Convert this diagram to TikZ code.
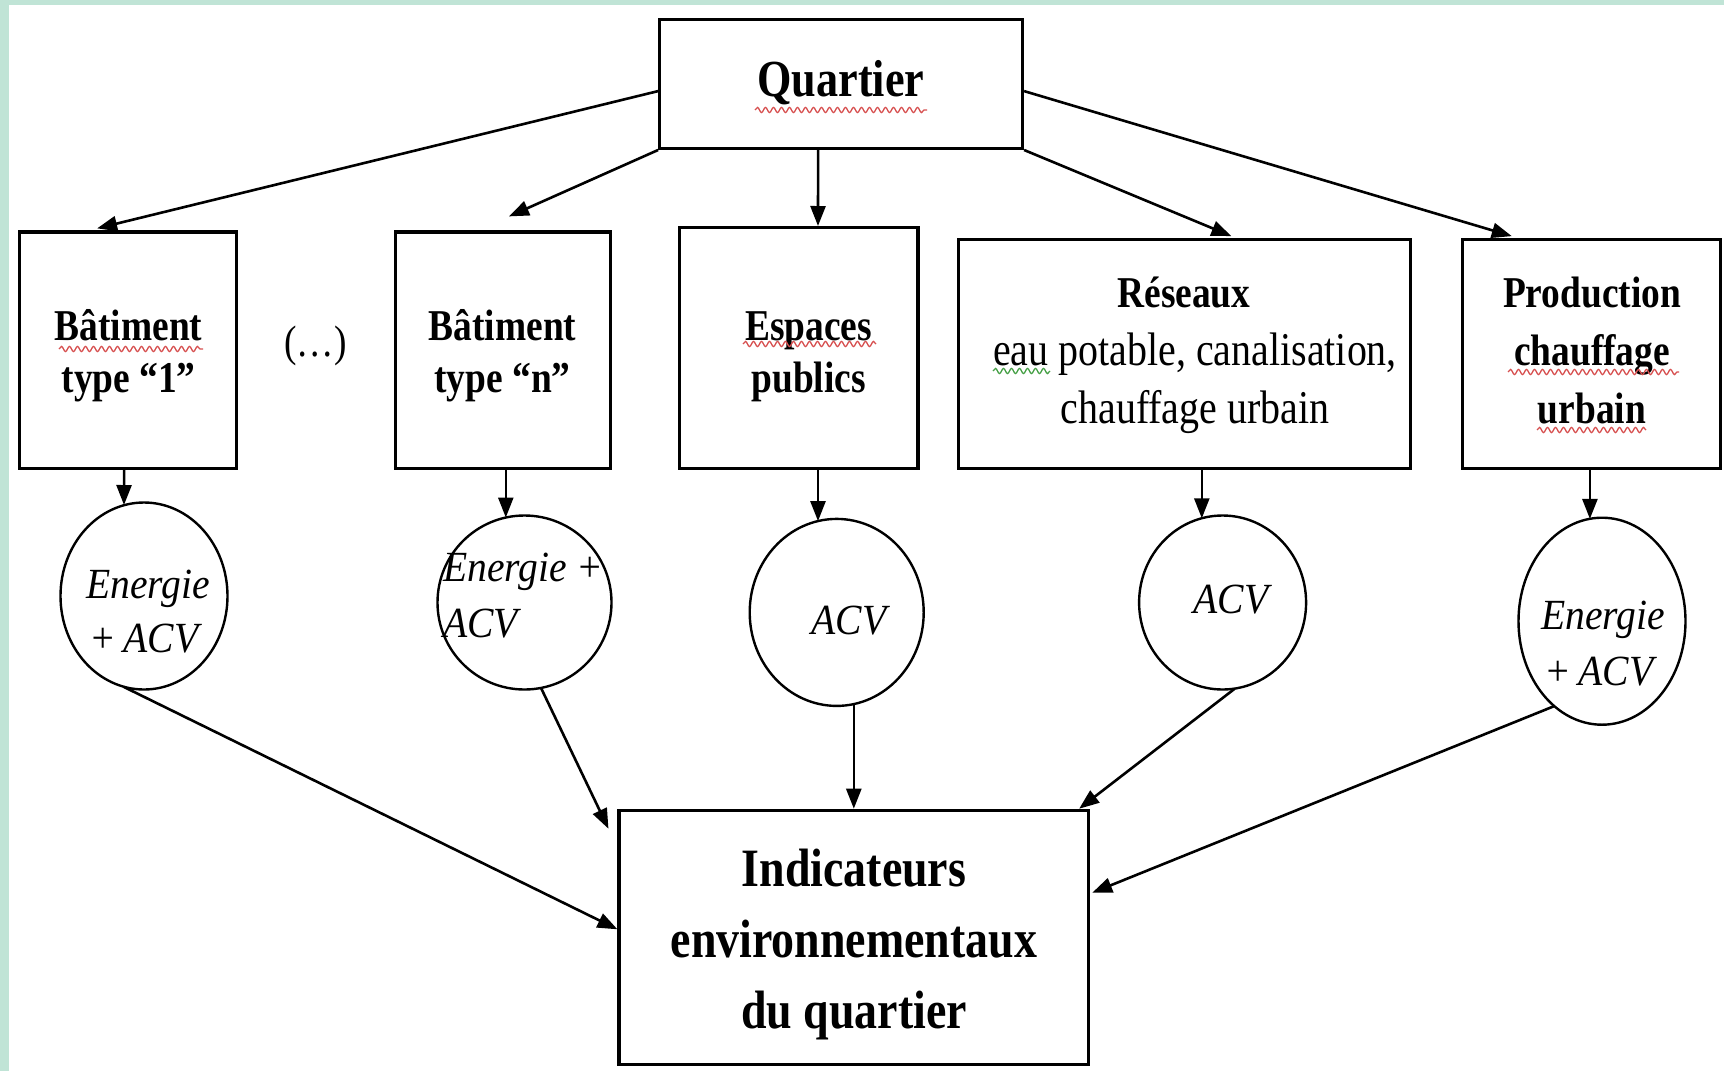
\documentclass[tikz,border=0pt]{standalone}
\usepackage{fontspec}
\setmainfont{Liberation Serif}[FakeStretch=0.85]
\newfontfamily\circfont{Liberation Serif}[FakeStretch=0.92]
\usetikzlibrary{arrows.meta,shapes.geometric,calc,decorations.pathmorphing}
\definecolor{mint}{RGB}{192,228,214}
\definecolor{squigred}{RGB}{215,80,80}
\definecolor{squiggreen}{RGB}{70,160,70}
\begin{document}
\begin{tikzpicture}[x=1pt,y=-1pt,
  boxnode/.style={draw=black, line width=3.2pt, rectangle, inner sep=0pt},
  txt/.style={inner sep=0pt, align=center, font=\fontsize{44}{52}\selectfont\bfseries},
  circnode/.style={draw=black, line width=2.4pt, ellipse, inner sep=0pt},
  ctxt/.style={inner sep=0pt, font=\circfont\itshape\fontsize{43}{56}\selectfont},
  conn/.style={line width=2.6pt, -{Triangle[length=20pt,width=15pt]}},
  squig/.style={line width=1.3pt, decorate, decoration={snake, amplitude=2.6pt, segment length=8pt}},
]
\fill[mint] (0,0) rectangle (1724,1071);
\fill[white] (9,5) rectangle (1724,1071);
\useasboundingbox (0,0) rectangle (1724,1071);

% boxes
\node[boxnode, minimum width=362.8pt, minimum height=128.6pt] (Q) at (841.1,84.1) {};
\node[boxnode, minimum width=216.6pt, minimum height=236.4pt] (b1) at (128.1,350.2) {};
\node[boxnode, minimum width=214.4pt, minimum height=236.4pt] (bn) at (503,350.2) {};
\node[boxnode, minimum width=238.5pt, minimum height=240.8pt] (esp) at (798.8,348) {};
\node[boxnode, minimum width=451.9pt, minimum height=228.7pt] (res) at (1184.8,354.1) {};
\node[boxnode, minimum width=258.4pt, minimum height=228.7pt] (prod) at (1591.5,354.1) {};
\node[boxnode, minimum width=469.5pt, minimum height=254pt] (I) at (853.8,937.3) {};

% box texts
\node[txt, font=\fontsize{52}{60}\selectfont\bfseries, anchor=base] (Qt) at (841,96) {Quartier};
\node[txt] (b1t) at (128.6,356) {Bâtiment\\type “1”};
\node[txt, font=\fontsize{44}{52}\selectfont] (dots) at (315.6,346) {(…)};
\node[txt] (bnt) at (502.5,356) {Bâtiment\\type “n”};
\node[txt] (espt) at (808.7,357) {Espaces\\publics};
\node[txt, font=\fontsize{44}{58}\selectfont] (rest) at (1184,355)
  {{\bfseries Réseaux}\\\hspace*{22pt}{\fontsize{47}{58}\selectfont eau potable, canalisation,}\\\hspace*{22pt}{\fontsize{47}{58}\selectfont chauffage urbain}};
\node[txt, font=\fontsize{44}{58}\selectfont\bfseries] (prodt) at (1592,350) {Production\\chauffage\\urbain};
\node[txt, font=\fontsize{54}{71}\selectfont\bfseries] (It) at (854,944) {Indicateurs\\environnementaux\\du quartier};

% circles
\node[circnode, minimum width=167pt, minimum height=187pt] (c1) at (144,596) {};
\node[circnode, minimum width=174pt, minimum height=174pt] (c2) at (524.5,602.5) {};
\node[circnode, minimum width=174pt, minimum height=187pt] (c3) at (836.7,612.4) {};
\node[circnode, minimum width=167pt, minimum height=174pt] (c4) at (1222.6,602.5) {};
\node[circnode, minimum width=167pt, minimum height=207pt] (c5) at (1602,621.2) {};

\node[ctxt, align=center] (c1t) at (148,612) {Energie\\[-2pt]\hspace*{-8pt}+\,ACV};
\node[ctxt, align=left, anchor=west] (c2t) at (443,596) {Energie +\\ACV};
\node[ctxt, anchor=base] (c3t) at (849,634) {ACV};
\node[ctxt, anchor=base] (c4t) at (1231,613.5) {ACV};
\node[ctxt, align=center] (c5t) at (1603,644) {Energie\\\hspace*{-8pt}+\,ACV};

% connectors from Quartier
\draw[conn] ($(Q.west)+(0,7)$) -- ($(b1.north)+(-31,-2)$);
\draw[conn] (Q.south west) -- ($(bn.north)+(6,-14)$);
\draw[conn] ($(Q.south)+(-23,0)$) -- ($(esp.north)+(19.2,0)$);
\draw[conn] (Q.south east) -- ($(res.north)+(46.6,-2)$);
\draw[conn] ($(Q.east)+(0,7)$) -- ($(prod.north)+(-79.7,-2)$);

% boxes to circles
\draw[conn] ($(b1.south)+(-4,0)$) -- ($(c1)+(-20,-91)$);
\draw[conn] ($(bn.south)+(2.8,0)$) -- ($(c2)+(-18.7,-85)$);
\draw[conn] ($(esp.south)+(19.2,0)$) -- ($(c3)+(-18.7,-91.3)$);
\draw[conn] ($(res.south)+(17,0)$) -- ($(c4)+(-20.8,-84.2)$);
\draw[conn] ($(prod.south)+(-1.6,0)$) -- ($(c5)+(-12.1,-102.3)$);

% circles to indicators
\draw[conn] ($(c1)+(-20,91)$) -- ($(I.west)+(0,-8)$);
\draw[conn] ($(c2)+(16.5,85.4)$) -- ($(I.north west)+(-9,20)$);
\draw[conn] ($(c3)+(17.1,91.7)$) -- (I.north);
\draw[conn] ($(c4)+(12.1,86.2)$) -- ($(I.north east)+(-11,0)$);
\draw[conn] ($(c5)+(-48,85)$) -- ($(I.east)+(2,-44.5)$);

% spell-check underlines
\draw[squig, squigred] (755,110) -- (927,110);
\draw[squig, squigred] (59,349) -- (203,349);
\draw[squig, squigred] (743,344) -- (876,344);
\draw[squig, squiggreen] (993,371) -- (1050,371);
\draw[squig, squigred] (1508,372) -- (1679,372);
\draw[squig, squigred] (1537,430) -- (1646,430);
\end{tikzpicture}
\end{document}
